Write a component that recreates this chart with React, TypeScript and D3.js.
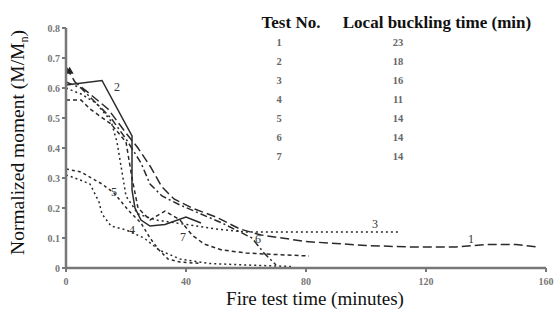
import * as d3 from 'd3';

const WIDTH = 556;
const HEIGHT = 315;

// test numbers and local buckling times from the table
const TESTS = ['1', '2', '3', '4', '5', '6', '7'];
const BUCKLING = ['23', '18', '16', '11', '14', '14', '14'];

const X_TICKS = [0, 40, 80, 120, 160];
const Y_TICKS = [0, 0.1, 0.2, 0.3, 0.4, 0.5, 0.6, 0.7, 0.8];

// [minutes, M/Mn]
const test1: [number, number][] = [
  [0, 0.67], [3, 0.62], [8, 0.58], [14, 0.53], [20, 0.45], [24, 0.4], [28, 0.34],
  [32, 0.27], [36, 0.23], [42, 0.2], [50, 0.17], [58, 0.13], [65, 0.11], [72, 0.1],
  [80, 0.088], [90, 0.082], [100, 0.075], [115, 0.07], [130, 0.07], [140, 0.078],
  [150, 0.078], [157, 0.07],
];
const test2: [number, number][] = [
  [0, 0.61], [12, 0.625], [22, 0.44], [22, 0.26], [23, 0.2], [25, 0.16], [28, 0.14],
  [33, 0.145], [40, 0.17], [45, 0.15],
];
const test3: [number, number][] = [
  [0, 0.6], [5, 0.58], [10, 0.55], [15, 0.49], [17, 0.42], [18, 0.36], [19, 0.3],
  [20, 0.24], [24, 0.18], [30, 0.16], [40, 0.145], [50, 0.13], [60, 0.12], [70, 0.12],
  [80, 0.12], [95, 0.12], [111, 0.12],
];
const test4: [number, number][] = [
  [0, 0.31], [3, 0.3], [8, 0.28], [11, 0.22], [12, 0.18], [15, 0.14], [20, 0.127],
  [26, 0.1], [31, 0.06], [38, 0.03], [48, 0.015], [60, 0.01], [75, 0.005],
];
const test5: [number, number][] = [
  [0, 0.33], [5, 0.32], [12, 0.28], [16, 0.25], [21, 0.19], [25, 0.15], [28, 0.1],
  [31, 0.06], [34, 0.03], [38, 0.02], [45, 0.015],
];
const test6: [number, number][] = [
  [0, 0.62], [5, 0.6], [10, 0.55], [15, 0.5], [20, 0.43], [25, 0.35], [28, 0.28],
  [32, 0.24], [38, 0.21], [45, 0.18], [52, 0.15], [58, 0.12], [62, 0.1], [66, 0.05],
  [70, 0.01],
];
const test7: [number, number][] = [
  [0, 0.56], [5, 0.56], [8, 0.53], [15, 0.48], [20, 0.42], [22, 0.3], [24, 0.2],
  [28, 0.16], [33, 0.19], [38, 0.16], [42, 0.11], [46, 0.08], [52, 0.06], [60, 0.05],
  [70, 0.045], [81, 0.04],
];

const SERIES = [
  { id: '1', data: test1, dash: '9,4' },
  { id: '2', data: test2, dash: null },
  { id: '3', data: test3, dash: '2,3' },
  { id: '4', data: test4, dash: '2,3' },
  { id: '5', data: test5, dash: '3,3' },
  { id: '6', data: test6, dash: '7,3,2,3' },
  { id: '7', data: test7, dash: '4,3' },
];

// curve labels placed on the plot, [minutes, M/Mn]
const LABELS: { text: string; at: [number, number] }[] = [
  { text: '2', at: [17, 0.59] },
  { text: '1', at: [135, 0.085] },
  { text: '3', at: [103, 0.135] },
  { text: '4', at: [22, 0.115] },
  { text: '5', at: [16, 0.24] },
  { text: '6', at: [64, 0.085] },
  { text: '7', at: [39, 0.09] },
];

const x = d3.scaleLinear().domain([0, 160]).range([66, 546]);
const y = d3.scaleLinear().domain([0, 0.8]).range([268, 28]);

const line = d3
  .line<[number, number]>()
  .x((d) => x(d[0]))
  .y((d) => y(d[1]));

export default function App() {
  const serif = '"Liberation Serif", "DejaVu Serif", serif';
  return (
    <svg
      width={WIDTH}
      height={HEIGHT}
      style={{ position: 'absolute', left: 0, top: 0, background: '#fff' }}
      fontFamily={serif}
    >
      {/* table */}
      <text x={291} y={28} fontSize={17} fontWeight='bold' textAnchor='middle' fill='#111'>
        Test No.
      </text>
      <text x={437} y={28} fontSize={17} fontWeight='bold' textAnchor='middle' fill='#111'>
        Local buckling time (min)
      </text>
      {TESTS.map((t, i) => (
        <g key={t} fontSize={10.5} fill='#666' fontWeight='bold'>
          <text x={279} y={46 + i * 19} textAnchor='middle'>
            {t}
          </text>
          <text x={398} y={46 + i * 19} textAnchor='middle'>
            {BUCKLING[i]}
          </text>
        </g>
      ))}

      {/* curves */}
      {SERIES.map((s) => (
        <path
          key={s.id}
          d={line(s.data) ?? ''}
          fill='none'
          stroke='#2a2a2a'
          strokeWidth={1.5}
          strokeDasharray={s.dash ?? undefined}
        />
      ))}
      <path
        d={d3.symbol(d3.symbolTriangle, 28)() ?? ''}
        transform={`translate(${x(1.2)},${y(0.655)})`}
        fill='#222'
      />
      {LABELS.map((l) => (
        <text
          key={l.text}
          x={x(l.at[0])}
          y={y(l.at[1])}
          fontSize={12}
          fill='#333'
          textAnchor='middle'
        >
          {l.text}
        </text>
      ))}

      {/* axes */}
      <line x1={x(0)} x2={x(160)} y1={y(0)} y2={y(0)} stroke='#777' strokeWidth={2.5} />
      <line x1={x(0)} x2={x(0)} y1={y(0)} y2={y(0.8)} stroke='#777' strokeWidth={2.5} />
      {Y_TICKS.map((v) => (
        <g key={v}>
          <line x1={x(0) - 4} x2={x(0)} y1={y(v)} y2={y(v)} stroke='#777' strokeWidth={2} />
          <text
            x={x(0) - 6}
            y={y(v) + 3.5}
            fontSize={10}
            fontWeight='bold'
            fill='#777'
            textAnchor='end'
          >
            {v === 0 ? '0' : d3.format('.1f')(v)}
          </text>
        </g>
      ))}
      {X_TICKS.map((v) => (
        <g key={v}>
          <line x1={x(v)} x2={x(v)} y1={y(0)} y2={y(0) + 4} stroke='#777' strokeWidth={2} />
          <text
            x={x(v)}
            y={y(0) + 17}
            fontSize={10}
            fontWeight='bold'
            fill='#777'
            textAnchor='middle'
          >
            {v}
          </text>
        </g>
      ))}
      <text x={315} y={305} fontSize={19} textAnchor='middle' fill='#111'>
        Fire test time (minutes)
      </text>
      <text
        transform={`translate(24,${(y(0) + 13) / 2 + 2}) rotate(-90)`}
        fontSize={19.5}
        textAnchor='middle'
        fill='#111'
      >
        Normalized moment (M/M<tspan fontSize={12} dy={4}>n</tspan>
        <tspan dy={-4}>)</tspan>
      </text>
    </svg>
  );
}
